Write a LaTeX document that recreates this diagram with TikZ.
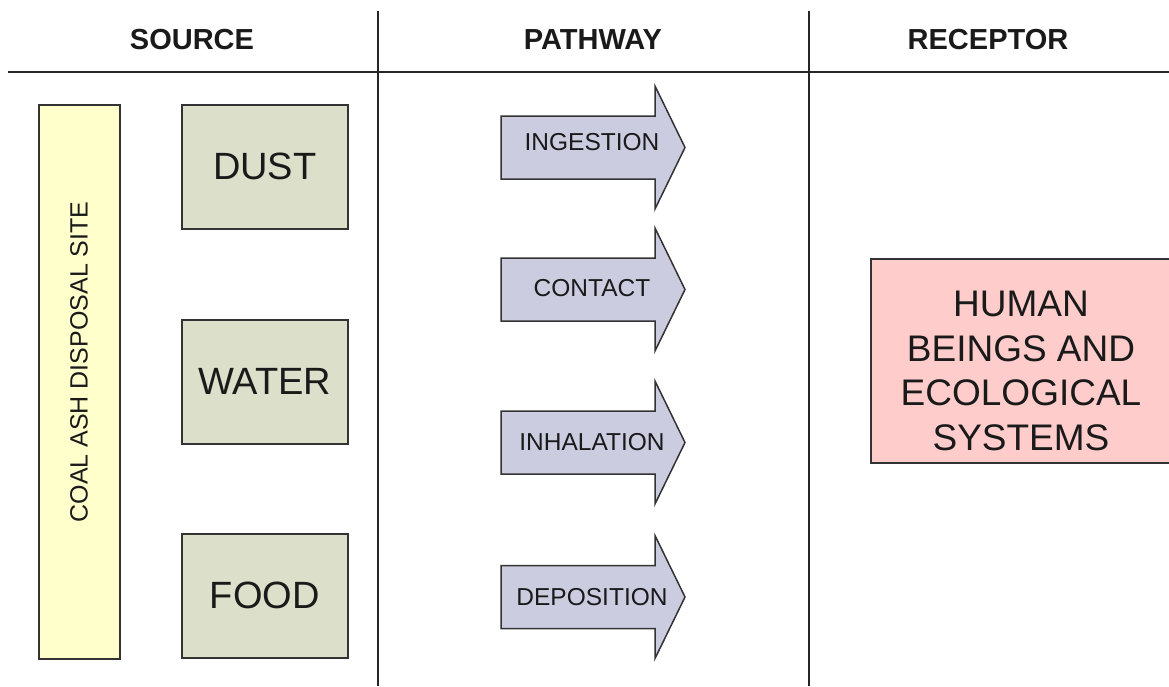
\documentclass[tikz,border=0pt]{standalone}
\usepackage{fontspec}
\setmainfont{Liberation Sans}
\definecolor{sitefill}{HTML}{FFFFCC}
\definecolor{srcfill}{HTML}{DCDFCA}
\definecolor{arrfill}{HTML}{CBCCE0}
\definecolor{recfill}{HTML}{FFCCCC}
\definecolor{edge}{HTML}{333333}
\definecolor{ink}{HTML}{1A1A1A}
\begin{document}
\begin{tikzpicture}[x=1pt,y=-1pt,
  rule/.style={draw=black!85, line width=1.3pt},
  hdr/.style={font=\fontsize{29}{34}\selectfont\bfseries, text=ink, inner sep=0pt},
  sitebox/.style={draw=edge, line width=1.5pt, fill=sitefill, inner sep=0pt, anchor=north west},
  srcbox/.style={draw=edge, line width=1.5pt, fill=srcfill, inner sep=0pt, anchor=north west,
    minimum width=166pt, minimum height=124pt, font=\fontsize{38}{44}\selectfont, text=ink},
  recbox/.style={draw=edge, line width=1.5pt, fill=recfill, inner sep=0pt, anchor=north west},
  arrowshape/.style={draw=edge, line width=1.5pt, fill=arrfill, line join=miter},
  arrowtxt/.style={font=\fontsize{24.5}{28}\selectfont, text=ink, inner sep=0pt},
]
\useasboundingbox (0,0) rectangle (1169,686);

% column rules
\draw[rule] (8,72) -- (1169,72);
\draw[rule] (378,11) -- (378,686);
\draw[rule] (809,11) -- (809,686);

% headers
\node[hdr] (hsrc) at (192,40) {SOURCE};
\node[hdr] (hpath) at (593,40) {PATHWAY};
\node[hdr] (hrec) at (988,40) {RECEPTOR};

% source column
\node[sitebox, minimum width=81pt, minimum height=554pt] (site) at (38,104) {};
\node[font=\fontsize{25}{30}\selectfont, text=ink, rotate=90, inner sep=0pt] (sitetxt) at (79,362) {COAL ASH DISPOSAL SITE};

\node[srcbox] (dust) at (181,104) {DUST};
\node[srcbox] (water) at (181,319) {WATER};
\node[srcbox] (food) at (181,533) {FOOD};

% pathway arrows
\foreach \n/\yc/\t/\ty in {ing/147.5/INGESTION/142, con/289.5/CONTACT/288, inh/442.5/INHALATION/442, dep/597/DEPOSITION/597} {
  \draw[arrowshape] (501,{\yc-31.5}) -- (655,{\yc-31.5}) -- (655,{\yc-61.5}) -- (685,\yc)
     -- (655,{\yc+61.5}) -- (655,{\yc+31.5}) -- (501,{\yc+31.5}) -- cycle;
  \node[arrowtxt] (\n) at (592,\ty) {\t};
}

% receptor
\node[recbox, minimum width=304pt, minimum height=204pt] (rec) at (870,258) {};
\node[font=\fontsize{37}{44.7}\selectfont, text=ink, align=center, inner sep=0pt] (rectxt) at (1021,371)
  {HUMAN\\BEINGS AND\\ECOLOGICAL\\SYSTEMS};
\end{tikzpicture}
\end{document}
